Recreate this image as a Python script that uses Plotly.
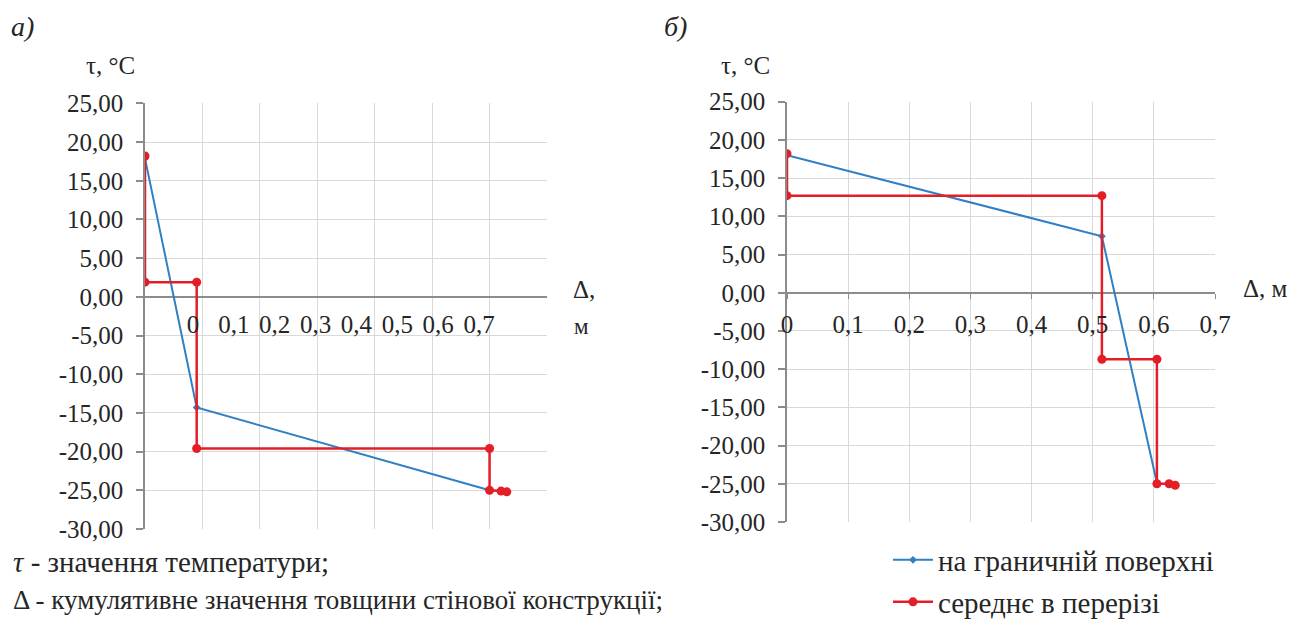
import plotly.graph_objects as go

# ---------------- data ----------------
x_ticks = [0, 0.1, 0.2, 0.3, 0.4, 0.5, 0.6, 0.7]
x_tick_text = ["0", "0,1", "0,2", "0,3", "0,4", "0,5", "0,6", "0,7"]
y_ticks = [25, 20, 15, 10, 5, 0, -5, -10, -15, -20, -25, -30]
y_tick_text = ["25,00", "20,00", "15,00", "10,00", "5,00", "0,00", "-5,00",
               "-10,00", "-15,00", "-20,00", "-25,00", "-30,00"]

series_names = ["на граничній поверхні", "середнє в перерізі"]

# chart а)
a_surf_x = [0.0, 0.09, 0.60]
a_surf_y = [17.9, -14.3, -25.0]
a_mean_x = [0.0, 0.0, 0.09, 0.09, 0.60, 0.60, 0.62, 0.63]
a_mean_y = [18.2, 1.9, 1.9, -19.6, -19.6, -25.0, -25.1, -25.2]

# chart б)
b_surf_x = [0.0, 0.515, 0.605]
b_surf_y = [18.0, 7.4, -24.9]
b_mean_x = [0.0, 0.0, 0.515, 0.515, 0.605, 0.605, 0.625, 0.635]
b_mean_y = [18.2, 12.7, 12.7, -8.7, -8.7, -25.0, -25.0, -25.2]

# ---------------- style ----------------
W, H = 1311, 621
FONT = "Liberation Serif, Tinos, DejaVu Serif, serif"
BLUE = "#2F80C4"
RED = "#E41E26"
GRID = "#D9D9D9"
AXIS = "#8C8C8C"
TXT = "#262626"
TICK_SIZE = 25

X_RANGE = [0, 0.7]
Y_RANGE = [-30, 25]


def px(xp):
    return xp / W


def py(yp):
    return 1 - yp / H


dom_a_x = [px(145), px(547)]
dom_a_y = [py(529), py(103.4)]
dom_b_x = [px(787), px(1215)]
dom_b_y = [py(522), py(101.7)]


def zero_pos(dom):
    return dom[0] + (0 - Y_RANGE[0]) / (Y_RANGE[1] - Y_RANGE[0]) * (dom[1] - dom[0])


fig = go.Figure()

# traces (blue first, red on top)
fig.add_trace(go.Scatter(x=a_surf_x, y=a_surf_y, mode="lines+markers", name=series_names[0],
                         line=dict(color=BLUE, width=2), marker=dict(symbol="diamond", size=6, color=BLUE),
                         xaxis="x", yaxis="y", legend="legend", showlegend=True))
fig.add_trace(go.Scatter(x=a_mean_x, y=a_mean_y, mode="lines+markers", name=series_names[1],
                         line=dict(color=RED, width=2.5), marker=dict(symbol="circle", size=9, color=RED),
                         xaxis="x", yaxis="y", legend="legend2", showlegend=True))
fig.add_trace(go.Scatter(x=b_surf_x, y=b_surf_y, mode="lines+markers", name=series_names[0],
                         line=dict(color=BLUE, width=2), marker=dict(symbol="diamond", size=6, color=BLUE),
                         xaxis="x2", yaxis="y2", showlegend=False))
fig.add_trace(go.Scatter(x=b_mean_x, y=b_mean_y, mode="lines+markers", name=series_names[1],
                         line=dict(color=RED, width=2.5), marker=dict(symbol="circle", size=9, color=RED),
                         xaxis="x2", yaxis="y2", showlegend=False))

# invisible carriers so that the tick-label axes placed on the zero line are drawn
for xa, ya in (("x3", "y"), ("x4", "y2")):
    fig.add_trace(go.Scatter(x=x_ticks, y=[None] * len(x_ticks), mode="markers",
                             marker=dict(opacity=0), xaxis=xa, yaxis=ya,
                             showlegend=False, hoverinfo="skip"))

tickfont = dict(family=FONT, size=TICK_SIZE, color=TXT)

common_x = dict(range=X_RANGE, tickvals=x_ticks, showticklabels=False, showgrid=True,
                gridcolor=GRID, gridwidth=1, zeroline=False, showline=False, ticks="",
                automargin=False)
common_y = dict(range=Y_RANGE, tickvals=y_ticks, ticktext=y_tick_text, showgrid=True,
                gridcolor=GRID, gridwidth=1, zeroline=True, zerolinecolor=AXIS, zerolinewidth=1.5,
                showline=True, linecolor=AXIS, linewidth=1.5, ticks="outside", ticklen=7,
                tickcolor=AXIS, tickwidth=1.5, tickfont=tickfont, ticklabelstandoff=8,
                automargin=False)

# compressed tick-label axis for chart а) (labels squeezed as in the original)
lab0_px, lab7_px = 193, 479
u0 = (lab0_px - 145) / (547 - 145) * 0.7
u7 = (lab7_px - 145) / (547 - 145) * 0.7
k = (u7 - u0) / 0.7
r_lo = (0 - u0) / k
r_hi = (0.7 - u0) / k

fig.update_layout(
    width=W, height=H, autosize=False,
    margin=dict(l=0, r=0, t=0, b=0, pad=0, autoexpand=False),
    paper_bgcolor="white", plot_bgcolor="white",
    font=dict(family=FONT, color=TXT),
    xaxis=dict(domain=dom_a_x, anchor="y", **common_x),
    yaxis=dict(domain=dom_a_y, anchor="x", **common_y),
    xaxis2=dict(domain=dom_b_x, anchor="y2", **common_x),
    yaxis2=dict(domain=dom_b_y, anchor="x2", **common_y),
    xaxis3=dict(overlaying="x", anchor="free", position=zero_pos(dom_a_y), side="bottom",
                range=[r_lo, r_hi], tickvals=x_ticks, ticktext=x_tick_text, showgrid=False,
                zeroline=False, showline=False, ticks="", tickfont=tickfont, ticklabelstandoff=10,
                automargin=False),
    xaxis4=dict(overlaying="x2", anchor="free", position=zero_pos(dom_b_y), side="bottom",
                range=X_RANGE, tickvals=x_ticks, ticktext=x_tick_text, showgrid=False,
                zeroline=False, showline=False, ticks="outside", ticklen=5, tickcolor=AXIS,
                tickfont=tickfont, ticklabelstandoff=4, automargin=False),
    legend=dict(x=px(888), y=py(560), xanchor="left", yanchor="middle",
                font=dict(family=FONT, size=29, color=TXT), bgcolor="rgba(0,0,0,0)",
                itemwidth=40),
    legend2=dict(x=px(888), y=py(602), xanchor="left", yanchor="middle",
                 font=dict(family=FONT, size=29, color=TXT), bgcolor="rgba(0,0,0,0)",
                 itemwidth=40),
)


def note(text, x, y, size, xanchor="center", yanchor="middle"):
    fig.add_annotation(text=text, x=px(x), y=py(y), xref="paper", yref="paper",
                       showarrow=False, xanchor=xanchor, yanchor=yanchor,
                       font=dict(family=FONT, size=size, color=TXT))


note("<i>а)</i>", 9, 27, 28, xanchor="left")
note("<i>б)</i>", 662, 27, 28, xanchor="left")
note("τ, °C", 84, 65, 25, xanchor="left")
note("τ, °C", 719, 65, 25, xanchor="left")
note("Δ,", 571, 289, 25, xanchor="left")
note("м", 572, 326, 23, xanchor="left")
note("Δ, м", 1241, 288, 25, xanchor="left")
note("<i>τ</i> - значення температури;", 11, 562, 29, xanchor="left")
note("Δ - кумулятивне значення товщини стінової конструкції;", 11, 600, 27, xanchor="left")

fig.write_html("out.html")
